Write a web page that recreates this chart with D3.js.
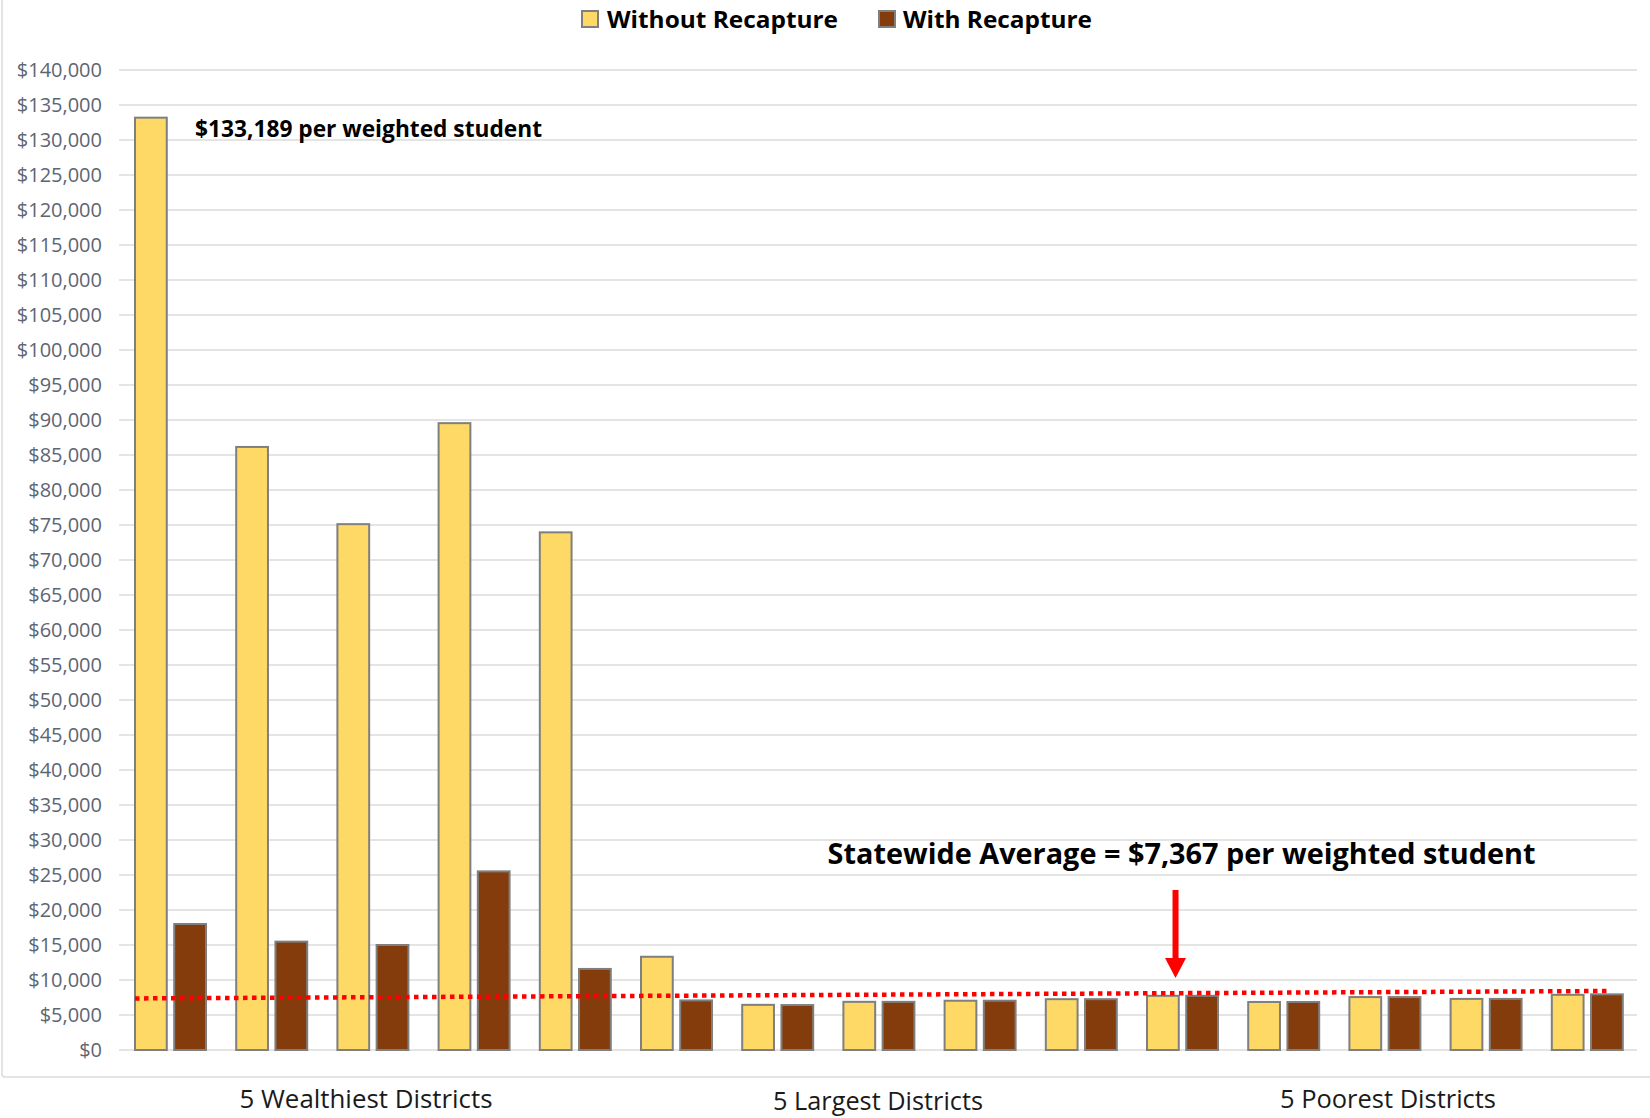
<!DOCTYPE html>
<html>
<head>
<meta charset="utf-8">
<script src="https://cdn.jsdelivr.net/npm/d3@7"></script>
<style>
  body { margin: 0; background: #fff; }
  svg { display: block; }
</style>
</head>
<body>
<svg id="chart" width="1650" height="1118"></svg>
<script>
// Revenue per weighted student, by district
const districts = ["W1", "W2", "W3", "W4", "W5", "L1", "L2", "L3", "L4", "L5", "P1", "P2", "P3", "P4", "P5"];
const groupLabels = ["5 Wealthiest Districts", "5 Largest Districts", "5 Poorest Districts"];
const seriesNames = ["Without Recapture", "With Recapture"];
const withoutRecapture = [133189, 86150, 75120, 89550, 73950, 13320, 6450, 6880, 7040, 7260, 7740, 6860, 7560, 7300, 7880];
const withRecapture = [18000, 15480, 15000, 25520, 11580, 7080, 6420, 6880, 7040, 7260, 7740, 6860, 7560, 7300, 7950];
const yTicks = d3.range(0, 140001, 5000);
const statewideAverage = 7367;
const averageLineEnd = 8430;

const W = 1650, H = 1118;
const plot = { left: 119, right: 1637, top: 70, bottom: 1050 };
const colors = { "Without Recapture": "#FFD966", "With Recapture": "#843C0C" };
const money = d3.format("$,");
const font = "'Open Sans', 'Liberation Sans', sans-serif";

const svg = d3.select("#chart");
svg.append("rect").attr("width", W).attr("height", H).attr("fill", "#fff");

// chart-area frame
svg.append("rect")
  .attr("x", 2).attr("y", -10).attr("width", W + 20).attr("height", 1087)
  .attr("rx", 3)
  .attr("fill", "none").attr("stroke", "#dcdcdc").attr("stroke-width", 1.5);

const x0 = d3.scaleBand().domain(districts).range([plot.left, plot.right]).paddingInner(0).paddingOuter(0);
const x1 = d3.scaleBand().domain(seriesNames).range([16, 87]).paddingInner(0.19).paddingOuter(0);
const y = d3.scaleLinear().domain([0, 140000]).range([plot.bottom, plot.top]);

// gridlines
svg.append("g").selectAll("line").data(yTicks).join("line")
  .attr("x1", plot.left).attr("x2", plot.right)
  .attr("y1", d => y(d)).attr("y2", d => y(d))
  .attr("stroke", "#e4e4e4").attr("stroke-width", 2);

// y axis
const yAxis = svg.append("g")
  .attr("transform", `translate(${plot.left},0)`)
  .call(d3.axisLeft(y).tickValues(yTicks).tickFormat(money).tickSize(0).tickPadding(17));
yAxis.select(".domain").remove();
yAxis.selectAll("text")
  .attr("font-family", font).attr("font-size", 20).attr("fill", "#5d6572");

// bars
const rows = districts.map((d, i) => ({ district: d, values: [
  { key: seriesNames[0], value: withoutRecapture[i] },
  { key: seriesNames[1], value: withRecapture[i] }
]}));

svg.append("g").selectAll("g").data(rows).join("g")
  .attr("transform", d => `translate(${x0(d.district)},0)`)
  .selectAll("rect").data(d => d.values).join("rect")
  .attr("x", d => x1(d.key))
  .attr("width", x1.bandwidth())
  .attr("y", d => y(d.value))
  .attr("height", d => y(0) - y(d.value))
  .attr("fill", d => colors[d.key])
  .attr("stroke", "#7f7f7f").attr("stroke-width", 2);

// statewide average line (dotted)
const avgPts = [
  [x0(districts[0]) + x1(seriesNames[0]), y(statewideAverage)],
  [x0(districts[districts.length - 1]) + x1(seriesNames[1]) + x1.bandwidth() / 2, y(averageLineEnd)]
];
svg.append("path")
  .attr("d", d3.line()(avgPts))
  .attr("fill", "none").attr("stroke", "#ff0000")
  .attr("stroke-width", 4.5).attr("stroke-dasharray", "4.5 4.5");

// arrow pointing at the average line
const arrowX = x0(districts[10]) + x0.bandwidth() * 0.44;
const arrowTop = y(22860), headBase = y(13140), tip = y(10290);
svg.append("rect")
  .attr("x", arrowX - 3).attr("y", arrowTop).attr("width", 6).attr("height", headBase - arrowTop + 1)
  .attr("fill", "#ff0000");
svg.append("path")
  .attr("d", `M${arrowX - 10.5},${headBase} L${arrowX + 10.5},${headBase} L${arrowX},${tip} Z`)
  .attr("fill", "#ff0000");

// annotations
svg.append("text")
  .attr("x", x0(districts[10]) + x0.bandwidth() / 2).attr("y", y(26570))
  .attr("text-anchor", "middle")
  .attr("font-family", font).attr("font-weight", 700).attr("font-size", 29)
  .attr("textLength", 708).attr("lengthAdjust", "spacingAndGlyphs")
  .attr("fill", "#000")
  .text(`Statewide Average = ${money(statewideAverage)} per weighted student`);

svg.append("text")
  .attr("x", x0(districts[0]) + 76).attr("y", y(130430))
  .attr("font-family", font).attr("font-weight", 700).attr("font-size", 24)
  .attr("textLength", 347).attr("lengthAdjust", "spacingAndGlyphs")
  .attr("fill", "#000")
  .text(`${money(withoutRecapture[0])} per weighted student`);

// group labels, centred under each block of five districts
const labelShift = [-6, 0, 4];
svg.append("g").selectAll("text").data(groupLabels).join("text")
  .attr("x", (d, i) => x0(districts[i * 5 + 2]) + x0.bandwidth() / 2 + labelShift[i])
  .attr("y", (d, i) => i === 1 ? 1110 : 1108)
  .attr("text-anchor", "middle")
  .attr("font-family", font).attr("font-size", 26)
  .attr("textLength", (d, i) => [253, 210, 216][i]).attr("lengthAdjust", "spacingAndGlyphs")
  .attr("fill", "#1a1a1a")
  .text(d => d);

// legend
const legendItems = [
  { key: seriesNames[0], sx: 582, tx: 607, tw: 231 },
  { key: seriesNames[1], sx: 879, tx: 903, tw: 189 }
];
const lg = svg.append("g");
lg.selectAll("rect").data(legendItems).join("rect")
  .attr("x", d => d.sx).attr("y", 11).attr("width", 16).attr("height", 16)
  .attr("fill", d => colors[d.key]).attr("stroke", "#7f7f7f").attr("stroke-width", 2);
lg.selectAll("text").data(legendItems).join("text")
  .attr("x", d => d.tx).attr("y", 28)
  .attr("font-family", font).attr("font-weight", 700).attr("font-size", 24)
  .attr("textLength", d => d.tw).attr("lengthAdjust", "spacingAndGlyphs")
  .attr("fill", "#000")
  .text(d => d.key);
</script>
</body>
</html>
